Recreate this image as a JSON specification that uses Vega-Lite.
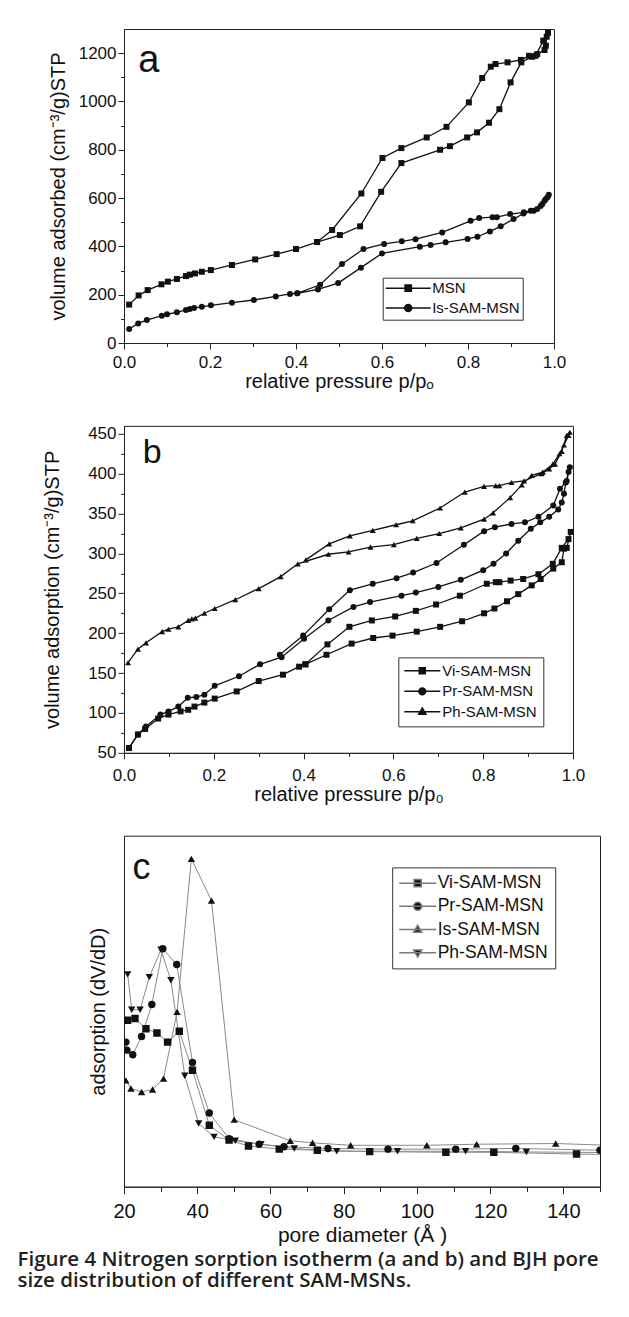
{
 "$schema": "https://vega.github.io/schema/vega-lite/v6.json",
 "background": "white",
 "padding": {"left": 17, "top": 28, "right": 0, "bottom": 0},
 "bounds": "flush",
 "spacing": 82.85,
 "title": {
  "text": ["Figure 4 Nitrogen sorption isotherm (a and b) and BJH pore", "size distribution of different SAM-MSNs."],
  "orient": "bottom", "anchor": "start", "frame": "group", "dx": -106.5, "offset": 4,
  "font": "Open Sans", "fontSize": 20.5, "fontWeight": 600, "color": "#231f20", "lineHeight": 21.5, "baseline": "top"
 },
 "datasets": {
  "a": [
   {"s":"MSN","i":1,"p":0.012,"v":159},{"s":"MSN","i":2,"p":0.034,"v":197},{"s":"MSN","i":3,"p":0.055,"v":219},{"s":"MSN","i":4,"p":0.087,"v":243},{"s":"MSN","i":5,"p":0.102,"v":254},{"s":"MSN","i":6,"p":0.123,"v":265},{"s":"MSN","i":7,"p":0.144,"v":277},{"s":"MSN","i":8,"p":0.153,"v":283},{"s":"MSN","i":9,"p":0.165,"v":288},{"s":"MSN","i":10,"p":0.181,"v":295},{"s":"MSN","i":11,"p":0.202,"v":302},{"s":"MSN","i":12,"p":0.251,"v":323},{"s":"MSN","i":13,"p":0.305,"v":346},{"s":"MSN","i":14,"p":0.355,"v":368},{"s":"MSN","i":15,"p":0.4,"v":389},{"s":"MSN","i":16,"p":0.449,"v":418},{"s":"MSN","i":17,"p":0.502,"v":447},{"s":"MSN","i":18,"p":0.549,"v":483},{"s":"MSN","i":19,"p":0.598,"v":626},{"s":"MSN","i":20,"p":0.645,"v":745},{"s":"MSN","i":21,"p":0.735,"v":800},{"s":"MSN","i":22,"p":0.758,"v":815},{"s":"MSN","i":23,"p":0.798,"v":851},{"s":"MSN","i":24,"p":0.821,"v":872},{"s":"MSN","i":25,"p":0.849,"v":912},{"s":"MSN","i":26,"p":0.873,"v":968},{"s":"MSN","i":27,"p":0.899,"v":1079},{"s":"MSN","i":28,"p":0.924,"v":1162},{"s":"MSN","i":29,"p":0.949,"v":1185},{"s":"MSN","i":30,"p":0.961,"v":1196},{"s":"MSN","i":31,"p":0.978,"v":1213},{"s":"MSN","i":32,"p":0.981,"v":1231},{"s":"MSN","i":33,"p":0.983,"v":1268},{"s":"MSN","i":34,"p":0.986,"v":1284},{"s":"MSN","i":35,"p":0.975,"v":1252},{"s":"MSN","i":36,"p":0.957,"v":1189},{"s":"MSN","i":37,"p":0.942,"v":1189},{"s":"MSN","i":38,"p":0.923,"v":1172},{"s":"MSN","i":39,"p":0.892,"v":1162},{"s":"MSN","i":40,"p":0.864,"v":1155},{"s":"MSN","i":41,"p":0.853,"v":1144},{"s":"MSN","i":42,"p":0.833,"v":1097},{"s":"MSN","i":43,"p":0.802,"v":996},{"s":"MSN","i":44,"p":0.75,"v":895},{"s":"MSN","i":45,"p":0.704,"v":851},{"s":"MSN","i":46,"p":0.645,"v":807},{"s":"MSN","i":47,"p":0.601,"v":766},{"s":"MSN","i":48,"p":0.552,"v":619},{"s":"MSN","i":49,"p":0.484,"v":468},{"s":"MSN","i":50,"p":0.449,"v":418},
   {"s":"Is-SAM-MSN","i":1,"p":0.012,"v":58},{"s":"Is-SAM-MSN","i":2,"p":0.033,"v":81},{"s":"Is-SAM-MSN","i":3,"p":0.053,"v":95},{"s":"Is-SAM-MSN","i":4,"p":0.088,"v":113},{"s":"Is-SAM-MSN","i":5,"p":0.1,"v":119},{"s":"Is-SAM-MSN","i":6,"p":0.123,"v":127},{"s":"Is-SAM-MSN","i":7,"p":0.144,"v":137},{"s":"Is-SAM-MSN","i":8,"p":0.153,"v":141},{"s":"Is-SAM-MSN","i":9,"p":0.163,"v":145},{"s":"Is-SAM-MSN","i":10,"p":0.181,"v":150},{"s":"Is-SAM-MSN","i":11,"p":0.202,"v":156},{"s":"Is-SAM-MSN","i":12,"p":0.251,"v":167},{"s":"Is-SAM-MSN","i":13,"p":0.302,"v":178},{"s":"Is-SAM-MSN","i":14,"p":0.353,"v":193},{"s":"Is-SAM-MSN","i":15,"p":0.386,"v":203},{"s":"Is-SAM-MSN","i":16,"p":0.403,"v":206},{"s":"Is-SAM-MSN","i":17,"p":0.451,"v":222},{"s":"Is-SAM-MSN","i":18,"p":0.498,"v":248},{"s":"Is-SAM-MSN","i":19,"p":0.551,"v":312},{"s":"Is-SAM-MSN","i":20,"p":0.6,"v":371},{"s":"Is-SAM-MSN","i":21,"p":0.688,"v":399},{"s":"Is-SAM-MSN","i":22,"p":0.713,"v":406},{"s":"Is-SAM-MSN","i":23,"p":0.748,"v":417},{"s":"Is-SAM-MSN","i":24,"p":0.799,"v":431},{"s":"Is-SAM-MSN","i":25,"p":0.822,"v":440},{"s":"Is-SAM-MSN","i":26,"p":0.851,"v":462},{"s":"Is-SAM-MSN","i":27,"p":0.876,"v":483},{"s":"Is-SAM-MSN","i":28,"p":0.906,"v":513},{"s":"Is-SAM-MSN","i":29,"p":0.929,"v":536},{"s":"Is-SAM-MSN","i":30,"p":0.953,"v":548},{"s":"Is-SAM-MSN","i":31,"p":0.969,"v":567},{"s":"Is-SAM-MSN","i":32,"p":0.978,"v":589},{"s":"Is-SAM-MSN","i":33,"p":0.985,"v":603},{"s":"Is-SAM-MSN","i":34,"p":0.988,"v":614},{"s":"Is-SAM-MSN","i":35,"p":0.981,"v":596},{"s":"Is-SAM-MSN","i":36,"p":0.973,"v":575},{"s":"Is-SAM-MSN","i":37,"p":0.961,"v":555},{"s":"Is-SAM-MSN","i":38,"p":0.946,"v":548},{"s":"Is-SAM-MSN","i":39,"p":0.93,"v":541},{"s":"Is-SAM-MSN","i":40,"p":0.898,"v":534},{"s":"Is-SAM-MSN","i":41,"p":0.867,"v":521},{"s":"Is-SAM-MSN","i":42,"p":0.857,"v":521},{"s":"Is-SAM-MSN","i":43,"p":0.826,"v":517},{"s":"Is-SAM-MSN","i":44,"p":0.806,"v":506},{"s":"Is-SAM-MSN","i":45,"p":0.74,"v":458},{"s":"Is-SAM-MSN","i":46,"p":0.678,"v":430},{"s":"Is-SAM-MSN","i":47,"p":0.646,"v":421},{"s":"Is-SAM-MSN","i":48,"p":0.605,"v":410},{"s":"Is-SAM-MSN","i":49,"p":0.557,"v":389},{"s":"Is-SAM-MSN","i":50,"p":0.507,"v":327},{"s":"Is-SAM-MSN","i":51,"p":0.456,"v":241},{"s":"Is-SAM-MSN","i":52,"p":0.403,"v":206}
  ],
  "b": [
   {"s":"Vi-SAM-MSN","i":1,"p":0.011,"v":56},{"s":"Vi-SAM-MSN","i":2,"p":0.031,"v":73},{"s":"Vi-SAM-MSN","i":3,"p":0.047,"v":80},{"s":"Vi-SAM-MSN","i":4,"p":0.076,"v":93},{"s":"Vi-SAM-MSN","i":5,"p":0.099,"v":98},{"s":"Vi-SAM-MSN","i":6,"p":0.126,"v":102},{"s":"Vi-SAM-MSN","i":7,"p":0.143,"v":104},{"s":"Vi-SAM-MSN","i":8,"p":0.157,"v":108},{"s":"Vi-SAM-MSN","i":9,"p":0.179,"v":113},{"s":"Vi-SAM-MSN","i":10,"p":0.202,"v":118},{"s":"Vi-SAM-MSN","i":11,"p":0.251,"v":127},{"s":"Vi-SAM-MSN","i":12,"p":0.3,"v":140},{"s":"Vi-SAM-MSN","i":13,"p":0.354,"v":148},{"s":"Vi-SAM-MSN","i":14,"p":0.39,"v":158},{"s":"Vi-SAM-MSN","i":15,"p":0.404,"v":161},{"s":"Vi-SAM-MSN","i":16,"p":0.451,"v":173},{"s":"Vi-SAM-MSN","i":17,"p":0.507,"v":187},{"s":"Vi-SAM-MSN","i":18,"p":0.555,"v":194},{"s":"Vi-SAM-MSN","i":19,"p":0.598,"v":197},{"s":"Vi-SAM-MSN","i":20,"p":0.652,"v":202},{"s":"Vi-SAM-MSN","i":21,"p":0.704,"v":208},{"s":"Vi-SAM-MSN","i":22,"p":0.753,"v":215},{"s":"Vi-SAM-MSN","i":23,"p":0.802,"v":225},{"s":"Vi-SAM-MSN","i":24,"p":0.825,"v":231},{"s":"Vi-SAM-MSN","i":25,"p":0.853,"v":240},{"s":"Vi-SAM-MSN","i":26,"p":0.878,"v":249},{"s":"Vi-SAM-MSN","i":27,"p":0.908,"v":260},{"s":"Vi-SAM-MSN","i":28,"p":0.928,"v":268},{"s":"Vi-SAM-MSN","i":29,"p":0.956,"v":281},{"s":"Vi-SAM-MSN","i":30,"p":0.975,"v":289},{"s":"Vi-SAM-MSN","i":31,"p":0.98,"v":306},{"s":"Vi-SAM-MSN","i":32,"p":0.986,"v":307},{"s":"Vi-SAM-MSN","i":33,"p":0.995,"v":327},{"s":"Vi-SAM-MSN","i":34,"p":0.99,"v":318},{"s":"Vi-SAM-MSN","i":35,"p":0.975,"v":307},{"s":"Vi-SAM-MSN","i":36,"p":0.955,"v":287},{"s":"Vi-SAM-MSN","i":37,"p":0.923,"v":274},{"s":"Vi-SAM-MSN","i":38,"p":0.889,"v":268},{"s":"Vi-SAM-MSN","i":39,"p":0.861,"v":266},{"s":"Vi-SAM-MSN","i":40,"p":0.836,"v":264},{"s":"Vi-SAM-MSN","i":41,"p":0.828,"v":264},{"s":"Vi-SAM-MSN","i":42,"p":0.808,"v":262},{"s":"Vi-SAM-MSN","i":43,"p":0.748,"v":247},{"s":"Vi-SAM-MSN","i":44,"p":0.695,"v":236},{"s":"Vi-SAM-MSN","i":45,"p":0.65,"v":228},{"s":"Vi-SAM-MSN","i":46,"p":0.604,"v":221},{"s":"Vi-SAM-MSN","i":47,"p":0.552,"v":216},{"s":"Vi-SAM-MSN","i":48,"p":0.502,"v":208},{"s":"Vi-SAM-MSN","i":49,"p":0.453,"v":186},{"s":"Vi-SAM-MSN","i":50,"p":0.404,"v":161},
   {"s":"Pr-SAM-MSN","i":1,"p":0.011,"v":56},{"s":"Pr-SAM-MSN","i":2,"p":0.031,"v":73},{"s":"Pr-SAM-MSN","i":3,"p":0.049,"v":83},{"s":"Pr-SAM-MSN","i":4,"p":0.081,"v":98},{"s":"Pr-SAM-MSN","i":5,"p":0.099,"v":102},{"s":"Pr-SAM-MSN","i":6,"p":0.121,"v":108},{"s":"Pr-SAM-MSN","i":7,"p":0.142,"v":119},{"s":"Pr-SAM-MSN","i":8,"p":0.161,"v":120},{"s":"Pr-SAM-MSN","i":9,"p":0.179,"v":123},{"s":"Pr-SAM-MSN","i":10,"p":0.202,"v":134},{"s":"Pr-SAM-MSN","i":11,"p":0.256,"v":146},{"s":"Pr-SAM-MSN","i":12,"p":0.303,"v":161},{"s":"Pr-SAM-MSN","i":13,"p":0.351,"v":170},{"s":"Pr-SAM-MSN","i":14,"p":0.401,"v":193},{"s":"Pr-SAM-MSN","i":15,"p":0.455,"v":216},{"s":"Pr-SAM-MSN","i":16,"p":0.511,"v":233},{"s":"Pr-SAM-MSN","i":17,"p":0.548,"v":239},{"s":"Pr-SAM-MSN","i":18,"p":0.618,"v":247},{"s":"Pr-SAM-MSN","i":19,"p":0.65,"v":251},{"s":"Pr-SAM-MSN","i":20,"p":0.7,"v":258},{"s":"Pr-SAM-MSN","i":21,"p":0.75,"v":267},{"s":"Pr-SAM-MSN","i":22,"p":0.8,"v":279},{"s":"Pr-SAM-MSN","i":23,"p":0.823,"v":287},{"s":"Pr-SAM-MSN","i":24,"p":0.851,"v":300},{"s":"Pr-SAM-MSN","i":25,"p":0.878,"v":316},{"s":"Pr-SAM-MSN","i":26,"p":0.906,"v":331},{"s":"Pr-SAM-MSN","i":27,"p":0.927,"v":339},{"s":"Pr-SAM-MSN","i":28,"p":0.947,"v":346},{"s":"Pr-SAM-MSN","i":29,"p":0.967,"v":355},{"s":"Pr-SAM-MSN","i":30,"p":0.975,"v":364},{"s":"Pr-SAM-MSN","i":31,"p":0.98,"v":375},{"s":"Pr-SAM-MSN","i":32,"p":0.984,"v":389},{"s":"Pr-SAM-MSN","i":33,"p":0.99,"v":402},{"s":"Pr-SAM-MSN","i":34,"p":0.993,"v":408},{"s":"Pr-SAM-MSN","i":35,"p":0.986,"v":391},{"s":"Pr-SAM-MSN","i":36,"p":0.971,"v":381},{"s":"Pr-SAM-MSN","i":37,"p":0.956,"v":360},{"s":"Pr-SAM-MSN","i":38,"p":0.923,"v":346},{"s":"Pr-SAM-MSN","i":39,"p":0.893,"v":339},{"s":"Pr-SAM-MSN","i":40,"p":0.863,"v":337},{"s":"Pr-SAM-MSN","i":41,"p":0.826,"v":333},{"s":"Pr-SAM-MSN","i":42,"p":0.802,"v":328},{"s":"Pr-SAM-MSN","i":43,"p":0.757,"v":311},{"s":"Pr-SAM-MSN","i":44,"p":0.696,"v":288},{"s":"Pr-SAM-MSN","i":45,"p":0.644,"v":276},{"s":"Pr-SAM-MSN","i":46,"p":0.607,"v":269},{"s":"Pr-SAM-MSN","i":47,"p":0.554,"v":262},{"s":"Pr-SAM-MSN","i":48,"p":0.503,"v":254},{"s":"Pr-SAM-MSN","i":49,"p":0.457,"v":230},{"s":"Pr-SAM-MSN","i":50,"p":0.399,"v":197},{"s":"Pr-SAM-MSN","i":51,"p":0.347,"v":173},
   {"s":"Ph-SAM-MSN","i":1,"p":0.009,"v":163},{"s":"Ph-SAM-MSN","i":2,"p":0.031,"v":180},{"s":"Ph-SAM-MSN","i":3,"p":0.049,"v":188},{"s":"Ph-SAM-MSN","i":4,"p":0.085,"v":202},{"s":"Ph-SAM-MSN","i":5,"p":0.099,"v":205},{"s":"Ph-SAM-MSN","i":6,"p":0.121,"v":208},{"s":"Ph-SAM-MSN","i":7,"p":0.143,"v":216},{"s":"Ph-SAM-MSN","i":8,"p":0.151,"v":218},{"s":"Ph-SAM-MSN","i":9,"p":0.159,"v":219},{"s":"Ph-SAM-MSN","i":10,"p":0.179,"v":225},{"s":"Ph-SAM-MSN","i":11,"p":0.202,"v":231},{"s":"Ph-SAM-MSN","i":12,"p":0.248,"v":242},{"s":"Ph-SAM-MSN","i":13,"p":0.3,"v":256},{"s":"Ph-SAM-MSN","i":14,"p":0.349,"v":271},{"s":"Ph-SAM-MSN","i":15,"p":0.387,"v":287},{"s":"Ph-SAM-MSN","i":16,"p":0.455,"v":299},{"s":"Ph-SAM-MSN","i":17,"p":0.5,"v":302},{"s":"Ph-SAM-MSN","i":18,"p":0.549,"v":308},{"s":"Ph-SAM-MSN","i":19,"p":0.601,"v":311},{"s":"Ph-SAM-MSN","i":20,"p":0.652,"v":319},{"s":"Ph-SAM-MSN","i":21,"p":0.702,"v":325},{"s":"Ph-SAM-MSN","i":22,"p":0.75,"v":332},{"s":"Ph-SAM-MSN","i":23,"p":0.802,"v":343},{"s":"Ph-SAM-MSN","i":24,"p":0.822,"v":351},{"s":"Ph-SAM-MSN","i":25,"p":0.86,"v":370},{"s":"Ph-SAM-MSN","i":26,"p":0.886,"v":386},{"s":"Ph-SAM-MSN","i":27,"p":0.908,"v":398},{"s":"Ph-SAM-MSN","i":28,"p":0.933,"v":402},{"s":"Ph-SAM-MSN","i":29,"p":0.955,"v":412},{"s":"Ph-SAM-MSN","i":30,"p":0.97,"v":425},{"s":"Ph-SAM-MSN","i":31,"p":0.98,"v":436},{"s":"Ph-SAM-MSN","i":32,"p":0.99,"v":448},{"s":"Ph-SAM-MSN","i":33,"p":0.993,"v":452},{"s":"Ph-SAM-MSN","i":34,"p":0.986,"v":448},{"s":"Ph-SAM-MSN","i":35,"p":0.975,"v":428},{"s":"Ph-SAM-MSN","i":36,"p":0.96,"v":412},{"s":"Ph-SAM-MSN","i":37,"p":0.947,"v":406},{"s":"Ph-SAM-MSN","i":38,"p":0.93,"v":400},{"s":"Ph-SAM-MSN","i":39,"p":0.891,"v":391},{"s":"Ph-SAM-MSN","i":40,"p":0.863,"v":389},{"s":"Ph-SAM-MSN","i":41,"p":0.836,"v":385},{"s":"Ph-SAM-MSN","i":42,"p":0.828,"v":385},{"s":"Ph-SAM-MSN","i":43,"p":0.802,"v":384},{"s":"Ph-SAM-MSN","i":44,"p":0.759,"v":377},{"s":"Ph-SAM-MSN","i":45,"p":0.704,"v":357},{"s":"Ph-SAM-MSN","i":46,"p":0.643,"v":341},{"s":"Ph-SAM-MSN","i":47,"p":0.606,"v":336},{"s":"Ph-SAM-MSN","i":48,"p":0.554,"v":329},{"s":"Ph-SAM-MSN","i":49,"p":0.503,"v":322},{"s":"Ph-SAM-MSN","i":50,"p":0.457,"v":312},{"s":"Ph-SAM-MSN","i":51,"p":0.405,"v":292}
  ],
  "c": [
   {"s":"Vi-SAM-MSN","i":1,"d":21.0,"y":47.4},{"s":"Vi-SAM-MSN","i":2,"d":23.0,"y":47.9},{"s":"Vi-SAM-MSN","i":3,"d":26.0,"y":45.0},{"s":"Vi-SAM-MSN","i":4,"d":29.0,"y":43.8},{"s":"Vi-SAM-MSN","i":5,"d":31.9,"y":41.2},{"s":"Vi-SAM-MSN","i":6,"d":35.1,"y":44.3},{"s":"Vi-SAM-MSN","i":7,"d":38.7,"y":33.2},{"s":"Vi-SAM-MSN","i":8,"d":43.3,"y":17.5},{"s":"Vi-SAM-MSN","i":9,"d":48.7,"y":13.3},{"s":"Vi-SAM-MSN","i":10,"d":54.0,"y":11.6},{"s":"Vi-SAM-MSN","i":11,"d":62.4,"y":10.7},{"s":"Vi-SAM-MSN","i":12,"d":72.8,"y":10.4},{"s":"Vi-SAM-MSN","i":13,"d":87.1,"y":10.0},{"s":"Vi-SAM-MSN","i":14,"d":107.9,"y":9.8},{"s":"Vi-SAM-MSN","i":15,"d":121.0,"y":9.8},{"s":"Vi-SAM-MSN","i":16,"d":143.6,"y":9.3},{"s":"Vi-SAM-MSN","i":17,"d":158,"y":9.1},
   {"s":"Pr-SAM-MSN","i":1,"d":20.5,"y":41.2},{"s":"Pr-SAM-MSN","i":2,"d":20.8,"y":38.9},{"s":"Pr-SAM-MSN","i":3,"d":22.4,"y":37.6},{"s":"Pr-SAM-MSN","i":4,"d":24.8,"y":42.8},{"s":"Pr-SAM-MSN","i":5,"d":27.6,"y":51.9},{"s":"Pr-SAM-MSN","i":6,"d":30.6,"y":67.8},{"s":"Pr-SAM-MSN","i":7,"d":34.4,"y":63.3},{"s":"Pr-SAM-MSN","i":8,"d":38.7,"y":35.4},{"s":"Pr-SAM-MSN","i":9,"d":43.3,"y":21.0},{"s":"Pr-SAM-MSN","i":10,"d":48.7,"y":13.7},{"s":"Pr-SAM-MSN","i":11,"d":56.9,"y":12.1},{"s":"Pr-SAM-MSN","i":12,"d":63.7,"y":11.4},{"s":"Pr-SAM-MSN","i":13,"d":75.7,"y":10.9},{"s":"Pr-SAM-MSN","i":14,"d":92.1,"y":10.7},{"s":"Pr-SAM-MSN","i":15,"d":110.6,"y":10.7},{"s":"Pr-SAM-MSN","i":16,"d":127.0,"y":10.9},{"s":"Pr-SAM-MSN","i":17,"d":150.0,"y":10.4},
   {"s":"Is-SAM-MSN","i":1,"d":20.5,"y":30.3},{"s":"Is-SAM-MSN","i":2,"d":21.9,"y":28.0},{"s":"Is-SAM-MSN","i":3,"d":24.8,"y":27.0},{"s":"Is-SAM-MSN","i":4,"d":27.8,"y":27.7},{"s":"Is-SAM-MSN","i":5,"d":30.8,"y":30.8},{"s":"Is-SAM-MSN","i":6,"d":34.5,"y":49.8},{"s":"Is-SAM-MSN","i":7,"d":38.4,"y":93.4},{"s":"Is-SAM-MSN","i":8,"d":43.9,"y":81.5},{"s":"Is-SAM-MSN","i":9,"d":50.1,"y":19.1},{"s":"Is-SAM-MSN","i":10,"d":65.4,"y":13.1},{"s":"Is-SAM-MSN","i":11,"d":71.5,"y":12.5},{"s":"Is-SAM-MSN","i":12,"d":81.9,"y":11.8},{"s":"Is-SAM-MSN","i":13,"d":102.7,"y":11.8},{"s":"Is-SAM-MSN","i":14,"d":116.3,"y":12.1},{"s":"Is-SAM-MSN","i":15,"d":137.9,"y":12.3},{"s":"Is-SAM-MSN","i":16,"d":158,"y":11.6},
   {"s":"Ph-SAM-MSN","i":1,"d":21.0,"y":60.5},{"s":"Ph-SAM-MSN","i":2,"d":22.1,"y":50.4},{"s":"Ph-SAM-MSN","i":3,"d":24.4,"y":50.4},{"s":"Ph-SAM-MSN","i":4,"d":26.9,"y":59.7},{"s":"Ph-SAM-MSN","i":5,"d":30.1,"y":67.5},{"s":"Ph-SAM-MSN","i":6,"d":32.8,"y":58.8},{"s":"Ph-SAM-MSN","i":7,"d":36.6,"y":31.6},{"s":"Ph-SAM-MSN","i":8,"d":40.4,"y":18.0},{"s":"Ph-SAM-MSN","i":9,"d":44.6,"y":14.2},{"s":"Ph-SAM-MSN","i":10,"d":50.4,"y":13.1},{"s":"Ph-SAM-MSN","i":11,"d":57.4,"y":12.1},{"s":"Ph-SAM-MSN","i":12,"d":66.5,"y":10.9},{"s":"Ph-SAM-MSN","i":13,"d":78.1,"y":10.1},{"s":"Ph-SAM-MSN","i":14,"d":94.7,"y":10.1},{"s":"Ph-SAM-MSN","i":15,"d":113.3,"y":10.1},{"s":"Ph-SAM-MSN","i":16,"d":129.9,"y":9.9},{"s":"Ph-SAM-MSN","i":17,"d":156,"y":9.7}
  ]
 },
 "vconcat": [
  {
   "width": 430,
   "height": 314,
   "data": {"name": "a"},
   "view": {"stroke": "#222", "strokeWidth": 1},
   "layer": [
    {
     "mark": {"type": "line", "color": "#111", "strokeWidth": 1.3},
     "encoding": {
      "x": {"field": "p", "type": "quantitative", "scale": {"domain": [0, 1], "nice": false, "zero": false},
            "axis": {"orient": "bottom", "values": [0, 0.2, 0.4, 0.6, 0.8, 1], "format": ".1f", "title": "relative pressure p/pₒ", "tickSize": 6, "labelPadding": 5.3, "titlePadding": 1.6}},
      "y": {"field": "v", "type": "quantitative", "scale": {"domain": [0, 1300], "nice": false, "zero": false},
            "axis": {"orient": "left", "values": [0, 200, 400, 600, 800, 1000, 1200], "format": "d", "title": "volume adsorbed (cm⁻³/g)STP", "tickSize": 6, "labelPadding": 2, "titlePadding": 9.8}},
      "detail": {"field": "s", "type": "nominal"},
      "order": {"field": "i", "type": "quantitative"}
     }
    },
    {
     "mark": {"type": "point", "filled": true, "color": "#111", "size": 36, "opacity": 1},
     "encoding": {
      "x": {"field": "p", "type": "quantitative", "axis": {"orient": "bottom", "values": [0.1, 0.3, 0.5, 0.7, 0.9], "labels": false, "domain": false, "title": null, "tickSize": 3.5}},
      "y": {"field": "v", "type": "quantitative", "axis": {"orient": "left", "values": [100, 300, 500, 700, 900, 1100], "labels": false, "domain": false, "title": null, "tickSize": 3.5}},
      "shape": {"field": "s", "type": "nominal", "scale": {"domain": ["MSN", "Is-SAM-MSN"], "range": ["square", "circle"]}, "legend": null}
     }
    },
    {
     "mark": {"type": "point", "filled": true, "fill": "#111", "stroke": "#111", "strokeWidth": 1.2, "size": 0, "opacity": 1},
     "encoding": {
      "x": {"field": "p", "type": "quantitative", "axis": null},
      "y": {"field": "v", "type": "quantitative", "axis": null},
      "shape": {"field": "s", "type": "nominal",
                "scale": {"domain": ["MSN", "Is-SAM-MSN"], "range": ["M-4.5,0H4.5M-0.63,-0.63H0.63V0.63H-0.63Z", "M-4.5,0H4.5M-0.7,0A0.7,0.7 0 1,0 0.7,0A0.7,0.7 0 1,0 -0.7,0Z"]},
                "legend": {"title": null, "orient": "none", "legendX": 258.7, "legendY": 248.7, "direction": "vertical", "symbolSize": 100, "symbolOffset": 15, "labelOffset": 16.5, "labelFontSize": 15, "labelFont": "Liberation Sans", "labelColor": "#111", "rowPadding": 3.7, "padding": 3, "strokeColor": "#333", "fillColor": "#ffffff", "labelLimit": 0}}
     }
    },
    {
     "data": {"values": [{}]},
     "mark": {"type": "text", "text": "a", "fontSize": 38, "font": "Liberation Sans", "align": "left", "baseline": "alphabetic", "color": "#111"},
     "encoding": {
      "x": {"datum": 0.033, "type": "quantitative", "axis": null},
      "y": {"datum": 1124, "type": "quantitative", "axis": null}
     }
    }
   ],
   "resolve": {"axis": {"x": "independent", "y": "independent"}, "scale": {"shape": "independent"}}
  },
  {
   "width": 449,
   "height": 327,
   "data": {"name": "b"},
   "view": {"stroke": "#222", "strokeWidth": 1},
   "layer": [
    {
     "mark": {"type": "line", "color": "#111", "strokeWidth": 1.3},
     "encoding": {
      "x": {"field": "p", "type": "quantitative", "scale": {"domain": [0, 1], "nice": false, "zero": false},
            "axis": {"orient": "bottom", "values": [0, 0.2, 0.4, 0.6, 0.8, 1], "format": ".1f", "title": "relative pressure p/p₀", "tickSize": 6, "labelPadding": 9, "titlePadding": 1}},
      "y": {"field": "v", "type": "quantitative", "scale": {"domain": [50, 460], "nice": false, "zero": false},
            "axis": {"orient": "left", "values": [50, 100, 150, 200, 250, 300, 350, 400, 450], "format": "d", "title": "volume adsorption (cm⁻³/g)STP", "tickSize": 6, "labelPadding": 2, "titlePadding": 25}},
      "detail": {"field": "s", "type": "nominal"},
      "order": {"field": "i", "type": "quantitative"}
     }
    },
    {
     "mark": {"type": "point", "filled": true, "color": "#111", "size": 36, "opacity": 1},
     "encoding": {
      "x": {"field": "p", "type": "quantitative", "axis": {"orient": "bottom", "values": [0.1, 0.3, 0.5, 0.7, 0.9], "labels": false, "domain": false, "title": null, "tickSize": 3.5}},
      "y": {"field": "v", "type": "quantitative", "axis": {"orient": "left", "values": [75, 125, 175, 225, 275, 325, 375, 425], "labels": false, "domain": false, "title": null, "tickSize": 3.5}},
      "shape": {"field": "s", "type": "nominal", "scale": {"domain": ["Vi-SAM-MSN", "Pr-SAM-MSN", "Ph-SAM-MSN"], "range": ["square", "circle", "triangle-up"]}, "legend": null}
     }
    },
    {
     "mark": {"type": "point", "filled": true, "fill": "#111", "stroke": "#111", "strokeWidth": 1.2, "size": 0, "opacity": 1},
     "encoding": {
      "x": {"field": "p", "type": "quantitative", "axis": null},
      "y": {"field": "v", "type": "quantitative", "axis": null},
      "shape": {"field": "s", "type": "nominal",
                "scale": {"domain": ["Vi-SAM-MSN", "Pr-SAM-MSN", "Ph-SAM-MSN"], "range": ["M-3.6,0H3.6M-0.6,-0.6H0.6V0.6H-0.6Z", "M-3.6,0H3.6M-0.68,0A0.68,0.68 0 1,0 0.68,0A0.68,0.68 0 1,0 -0.68,0Z", "M-3.6,0H3.6M0,-0.78L0.72,0.5H-0.72Z"]},
                "legend": {"title": null, "orient": "none", "legendX": 274.3, "legendY": 231.5, "direction": "vertical", "symbolSize": 100, "symbolOffset": 10.5, "labelOffset": 12.5, "labelFontSize": 15, "labelFont": "Liberation Sans", "labelColor": "#111", "rowPadding": 4.5, "padding": 6, "strokeColor": "#333", "fillColor": "#ffffff", "labelLimit": 0}}
     }
    },
    {
     "data": {"values": [{}]},
     "mark": {"type": "text", "text": "b", "fontSize": 34, "font": "Liberation Sans", "align": "left", "baseline": "alphabetic", "color": "#111"},
     "encoding": {
      "x": {"datum": 0.042, "type": "quantitative", "axis": null},
      "y": {"datum": 414, "type": "quantitative", "axis": null}
     }
    }
   ],
   "resolve": {"axis": {"x": "independent", "y": "independent"}, "scale": {"shape": "independent"}}
  },
  {
   "width": 476,
   "height": 351,
   "data": {"name": "c"},
   "view": {"stroke": "#222", "strokeWidth": 1},
   "layer": [
    {
     "mark": {"type": "line", "color": "#8a8a8a", "strokeWidth": 1, "clip": true},
     "encoding": {
      "x": {"field": "d", "type": "quantitative", "scale": {"domain": [20, 150], "nice": false, "zero": false},
            "axis": {"orient": "bottom", "values": [20, 40, 60, 80, 100, 120, 140], "format": "d", "title": "pore diameter  (Å )", "labelFontSize": 20, "titleFontSize": 21, "tickSize": 7, "labelPadding": 7.9, "titlePadding": 2.6}},
      "y": {"field": "y", "type": "quantitative", "scale": {"domain": [0, 100], "nice": false, "zero": false},
            "axis": {"orient": "left", "labels": false, "ticks": false, "domain": false, "title": "adsorption (dV/dD)", "titleFontSize": 20, "titlePadding": 16, "minExtent": 0}},
      "detail": {"field": "s", "type": "nominal"},
      "order": {"field": "i", "type": "quantitative"}
     }
    },
    {
     "mark": {"type": "point", "filled": true, "color": "#111", "size": 55, "opacity": 1, "clip": true},
     "encoding": {
      "x": {"field": "d", "type": "quantitative", "axis": {"orient": "bottom", "values": [30, 50, 70, 90, 110, 130, 150], "labels": false, "domain": false, "title": null, "tickSize": 4.7}},
      "y": {"field": "y", "type": "quantitative", "axis": null},
      "shape": {"field": "s", "type": "nominal", "scale": {"domain": ["Vi-SAM-MSN", "Pr-SAM-MSN", "Is-SAM-MSN", "Ph-SAM-MSN"], "range": ["square", "circle", "triangle-up", "triangle-down"]}, "legend": null}
     }
    },
    {
     "mark": {"type": "point", "filled": true, "fill": "#111", "stroke": "#7a7a7a", "strokeWidth": 1, "size": 0, "opacity": 1, "clip": true},
     "encoding": {
      "x": {"field": "d", "type": "quantitative", "axis": null},
      "y": {"field": "y", "type": "quantitative", "axis": null},
      "shape": {"field": "s", "type": "nominal",
                "scale": {"domain": ["Vi-SAM-MSN", "Pr-SAM-MSN", "Is-SAM-MSN", "Ph-SAM-MSN"], "range": ["M-3.7,0H3.7M-0.72,-0.72H0.72V0.72H-0.72Z", "M-3.7,0H3.7M-0.8,0A0.8,0.8 0 1,0 0.8,0A0.8,0.8 0 1,0 -0.8,0Z", "M-3.7,0H3.7M0,-0.85L0.82,0.55H-0.82Z", "M-3.7,0H3.7M0,0.85L0.82,-0.55H-0.82Z"]},
                "legend": {"title": null, "orient": "none", "legendX": 268.2, "legendY": 31.7, "direction": "vertical", "symbolSize": 100, "symbolOffset": 9.75, "labelOffset": 11.25, "labelFontSize": 17.5, "labelFont": "Liberation Sans", "labelColor": "#111", "rowPadding": 4.2, "padding": 7, "strokeColor": "#333", "fillColor": "#ffffff", "labelLimit": 0,
                           "labelExpr": "datum.label == 'Vi-SAM-MSN' ? datum.label : '\u00a0' + datum.label"}}
     }
    },
    {
     "data": {"values": [{}]},
     "mark": {"type": "text", "text": "c", "fontSize": 36, "font": "Liberation Sans", "align": "left", "baseline": "alphabetic", "color": "#111"},
     "encoding": {
      "x": {"datum": 22.3, "type": "quantitative", "axis": null},
      "y": {"datum": 87.7, "type": "quantitative", "axis": null}
     }
    }
   ],
   "resolve": {"axis": {"x": "independent", "y": "independent"}, "scale": {"shape": "independent"}}
  }
 ],
 "config": {
  "font": "Liberation Sans",
  "axis": {"grid": false, "labelFont": "Liberation Sans", "titleFont": "Liberation Sans", "labelFontSize": 17, "titleFontSize": 20, "labelColor": "#111", "titleColor": "#111", "tickColor": "#222", "domainColor": "#222", "titleFontWeight": "normal", "labelFlush": false, "labelOverlap": false, "labelBound": false, "tickWidth": 1, "domainWidth": 1}
 }
}
